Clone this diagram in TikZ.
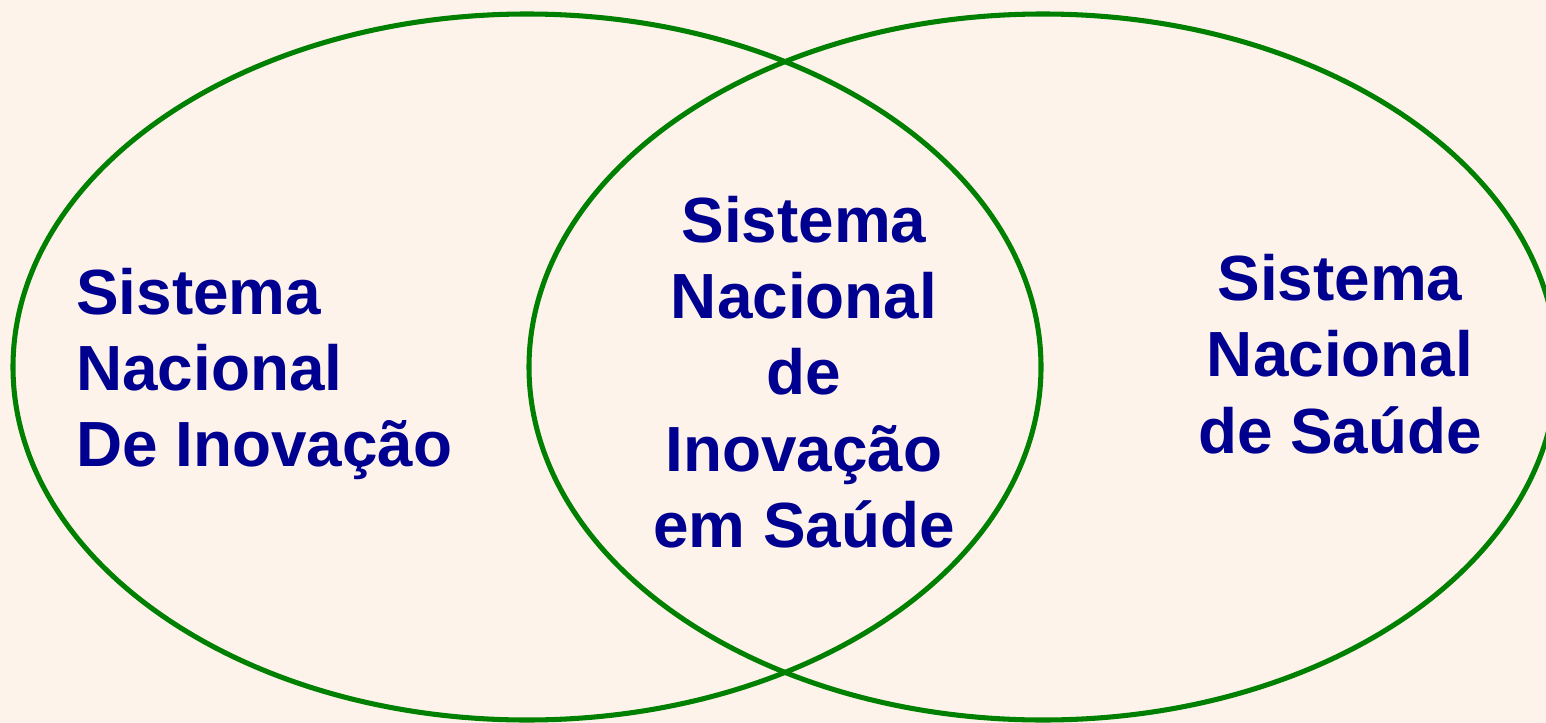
\documentclass[tikz,border=0pt]{standalone}
\usepackage{fontspec}
\setmainfont{Liberation Sans}
\usepackage{xcolor}
\usepackage{tikz}
\definecolor{fundo}{RGB}{254,243,235}
\definecolor{verde}{RGB}{0,128,0}
\definecolor{azul}{RGB}{0,0,144}
\begin{document}
\begin{tikzpicture}[x=0.025cm, y=-0.025cm,
    circulo/.style={draw=verde, line width=3.6pt},
    rotulo/.style={text=azul, font=\fontsize{45.4}{54.2}\selectfont\bfseries, inner sep=0pt}]
    \fill[fundo] (0,0) rectangle (1546,723);
    \clip (0,0) rectangle (1546,723);
    \draw[circulo] (527,367) ellipse [x radius=514, y radius=353];
    \draw[circulo] (1043,367) ellipse [x radius=514, y radius=353];
    \node[rotulo, align=left, anchor=west] (sni) at (76,374) {Sistema\\Nacional\\De Inovação};
    \node[rotulo, align=center] (snis) at (804,372) {Sistema\\Nacional\\de\\Inovação\\em Saúde};
    \node[rotulo, align=center] (sns) at (1340,354) {Sistema\\Nacional\\de Saúde};
  \end{tikzpicture}
\end{document}
